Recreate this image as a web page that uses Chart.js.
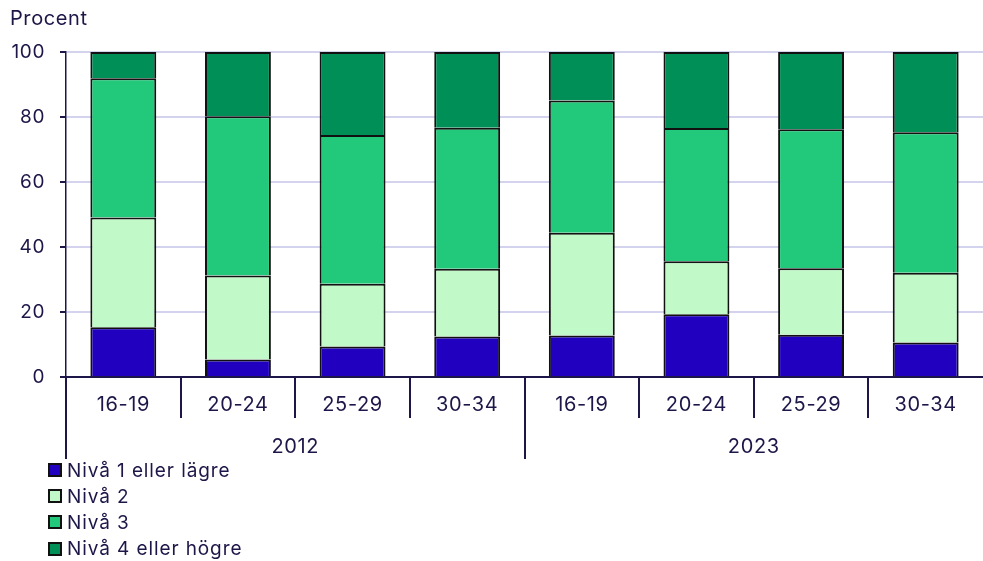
<!DOCTYPE html>
<html>
<head>
<meta charset="utf-8">
<script src="https://cdn.jsdelivr.net/npm/chart.js@4/dist/chart.umd.min.js"></script>
<style>
  body { margin: 0; background: #fff; }
  #wrap { position: relative; width: 983px; height: 561px; }
  #legend { position: absolute; left: 48px; top: 457px; font-family: Inter, sans-serif; font-size: 19px; letter-spacing: 0.9px; color: #1c1748; }
  #legend div { display: flex; align-items: center; height: 26.2px; }
  #legend span.box { width: 10px; height: 10px; border: 2px solid #111; margin-right: 5px; }
</style>
</head>
<body>
<div id="wrap">
  <canvas id="chart" width="983" height="561"></canvas>
  <div id="legend"></div>
</div>
<script>
// categories
const ageGroups = ['16-19', '20-24', '25-29', '30-34'];
const years = ['2012', '2023'];
const labels = years.flatMap(() => ageGroups);

// share per level, percent (2012 first, then 2023)
const level1 = [15.3, 5.4, 9.4, 12.5, 12.8, 19.3, 13.0, 10.6];
const level2 = [33.8, 25.8, 19.3, 20.8, 31.6, 16.3, 20.5, 21.5];
const level3 = [42.8, 49.0, 45.8, 43.4, 40.7, 41.0, 42.7, 43.2];
const level4 = [8.1, 19.8, 25.5, 23.3, 14.9, 23.4, 23.8, 24.7];

const seriesNames = ['Nivå 1 eller lägre', 'Nivå 2', 'Nivå 3', 'Nivå 4 eller högre'];
const seriesColors = ['#2100c0', '#c1f9c8', '#22c97b', '#008f57'];

const navy = '#1c1748';
Chart.defaults.font.family = 'Inter, sans-serif';
Chart.defaults.font.size = 20;
Chart.defaults.color = navy;

// the source font is a little wider than Inter, spread the letters a bit
const spacing = {
    id: 'spacing',
    beforeDraw(chart) { chart.ctx.letterSpacing = '0.6px'; },
};

// separator ticks between categories, but none at the far right edge
const sepColor = (c) => c.type === 'tick' ? navy : 'rgba(0,0,0,0)';

const datasets = [level1, level2, level3, level4].map((d, i) => ({
    label: seriesNames[i],
    data: d,
    backgroundColor: seriesColors[i],
    borderColor: '#111',
    borderWidth: 2,
    barPercentage: 0.575,
    categoryPercentage: 1,
}));

const chart = new Chart(document.getElementById('chart'), {
    type: 'bar',
    data: { labels: labels, datasets: datasets },
    plugins: [spacing],
    options: {
        responsive: false,
        animation: false,
        layout: { padding: { left: 10, right: 0, top: 0, bottom: 102 } },
        plugins: {
            legend: { display: false },
            tooltip: { enabled: false },
            title: {
                display: true,
                text: 'Procent',
                align: 'start',
                color: navy,
                font: { size: 20, weight: 'normal' },
                padding: { top: 7, bottom: 21 },
            },
        },
        scales: {
            x: {
                stacked: true,
                border: { color: navy, width: 2 },
                grid: { drawOnChartArea: false, offset: true, tickLength: 41, color: sepColor, lineWidth: 2 },
                ticks: { padding: -25, maxRotation: 0, autoSkip: false },
                // keep the box tall enough so the labels inside the ticks are not clipped
                afterFit: (scale) => { scale.height = 41; },
            },
            x2: {
                type: 'category',
                labels: years,
                position: 'bottom',
                border: { display: false },
                grid: { drawOnChartArea: false, offset: true, tickLength: 41, color: sepColor, lineWidth: 2 },
                ticks: { padding: -24, maxRotation: 0 },
                afterFit: (scale) => { scale.height = 41; },
            },
            y: {
                stacked: true,
                min: 0,
                max: 100,
                border: { color: navy, width: 1.5 },
                grid: { color: '#d3d3ee', lineWidth: 2, tickColor: navy, tickLength: 6 },
                ticks: { stepSize: 20, padding: 15, font: { size: 19 } },
                afterFit: (scale) => { scale.width = 56; },
            },
        },
    },
});

// legend below the axes, one entry per row
const legendEl = document.getElementById('legend');
chart.data.datasets.forEach(ds => {
    const row = document.createElement('div');
    row.innerHTML = '<span class="box" style="background:' + ds.backgroundColor + '"></span>' + ds.label;
    legendEl.appendChild(row);
});
</script>
</body>
</html>
